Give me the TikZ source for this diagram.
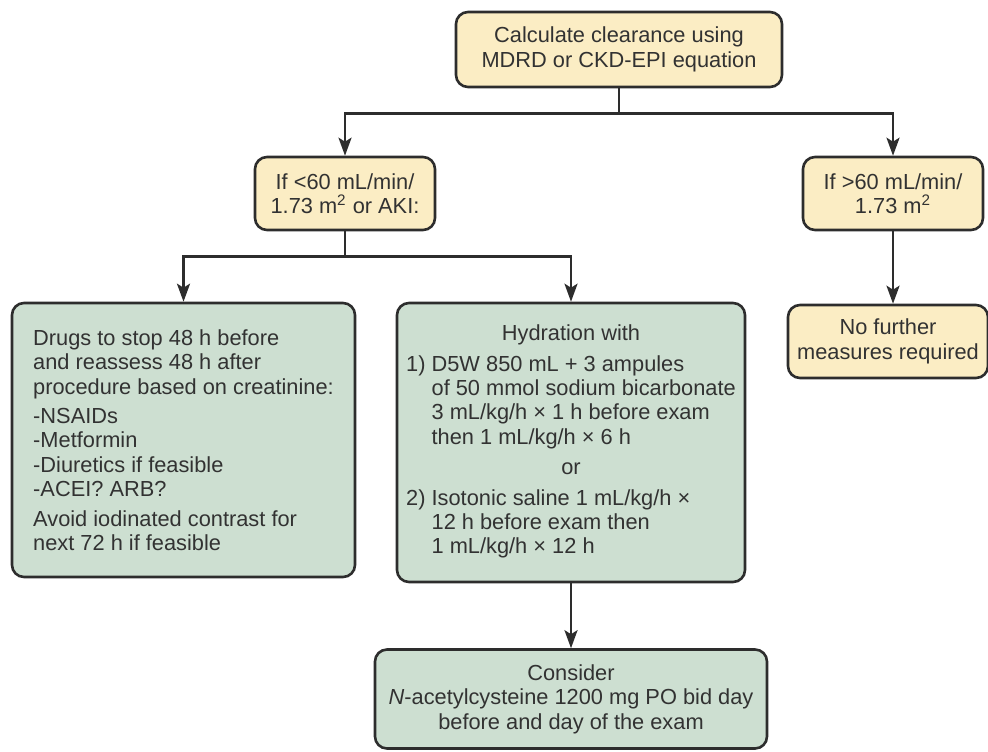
\documentclass[tikz,border=0pt]{standalone}
\usepackage{fontspec}
\setmainfont{Liberation Sans}
\usepackage{xcolor}
\usetikzlibrary{positioning, arrows.meta, calc}

\definecolor{boxcream}{RGB}{251,237,196}
\definecolor{boxsage}{RGB}{205,223,209}
\definecolor{edgegray}{RGB}{45,45,45}
\definecolor{inkgray}{RGB}{50,50,50}
\newcommand{\flowfont}{\fontsize{10.9}{12.2}\selectfont}

\begin{document}
\begin{tikzpicture}[
  x=0.5pt, y=-0.5pt,
  ybox/.style={draw=edgegray, line width=1.3pt, rounded corners=6pt, fill=boxcream, minimum width=#1, align=center, font=\flowfont, text=inkgray, inner sep=0pt},
  ybox/.default=90pt,
  gbox/.style={ybox=#1, fill=boxsage},
  arr/.style={-{Stealth[length=9pt, width=6.5pt, inset=2pt]}, line width=1.3pt, draw=edgegray},
]
\useasboundingbox (0,0) rectangle (988,751);

% === CLEARANCE ===
\node[ybox=163pt, minimum height=37.5pt] (calc) at (619,49.5) {Calculate clearance using\\MDRD or CKD-EPI equation};

% === THRESHOLD ===
\node[ybox=90pt, minimum height=36.5pt] (low) at (345,193.5) {If {<}60 mL/min/\\1.73 m\textsuperscript{2} or AKI:};
\node[ybox=90pt, minimum height=36.5pt] (high) at (893,193.5) {If {>}60 mL/min/\\1.73 m\textsuperscript{2}};

\draw[arr] (calc.south) -- ++(0,25) -| (low.north);
\draw[arr] (calc.south) -- ++(0,25) -| (high.north);

% === MEASURES ===
\node[gbox=171.5pt, minimum height=137pt, align=left] (drugs) at (183.5,440) {Drugs to stop 48 h before\\and reassess 48 h after\\procedure based on creatinine:\\[2.5pt]-NSAIDs\\-Metformin\\-Diuretics if feasible\\-ACEI? ARB?\\[2.5pt]Avoid iodinated contrast for\\next 72 h if feasible};
\node[gbox=174pt, minimum height=139.5pt] (hydr) at (571,442.5) {\begin{tabular}{@{}l@{ }l@{}}
  \multicolumn{2}{c}{Hydration with}\\[3pt]
  1) & D5W 850 mL + 3 ampules\\
     & of 50 mmol sodium bicarbonate\\
     & 3 mL/kg/h × 1 h before exam\\
     & then 1 mL/kg/h × 6 h\\[3pt]
  \multicolumn{2}{c}{or}\\[3pt]
  2) & Isotonic saline 1 mL/kg/h ×\\
     & 12 h before exam then\\
     & 1 mL/kg/h × 12 h
\end{tabular}};
\node[ybox=100pt, minimum height=36.5pt] (nofurther) at (888,341.5) {No further\\measures required};

\draw[arr] (low.south) -- ++(0,25) -| (drugs.north);
\draw[arr] (low.south) -- ++(0,25) -| (hydr.north);
\draw[arr] (high.south) -- (high.south |- nofurther.north);

% === N-ACETYLCYSTEINE ===
\node[gbox=196pt, minimum height=49.5pt] (cons) at (571,699) {Consider\\\textit{N}-acetylcysteine 1200 mg PO bid day\\before and day of the exam};

\draw[arr] (hydr.south) -- (cons.north);

\end{tikzpicture}
\end{document}
